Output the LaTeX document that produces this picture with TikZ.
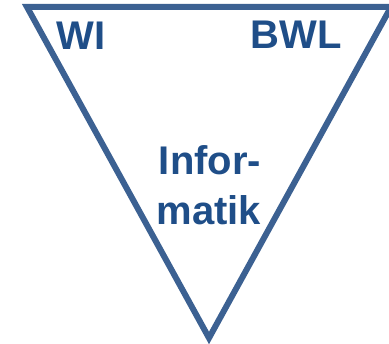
\documentclass[tikz,border=0pt]{standalone}
\usepackage{fontspec}
\setmainfont{Liberation Sans}
\definecolor{randblau}{RGB}{60,97,146}
\definecolor{textblau}{RGB}{31,78,136}
\tikzset{fach/.style={text=textblau,font=\fontsize{40}{50}\selectfont\bfseries,inner sep=0pt}}
\begin{document}
\begin{tikzpicture}[x=1pt,y=-1pt]
\useasboundingbox (0,0) rectangle (389,344);
\coordinate (ol) at (27,7);
\coordinate (or) at (391,7);
\coordinate (u) at (209,338);
\draw[randblau,line width=6pt,line join=miter] (ol) -- (or) -- (u) -- cycle;
\node[fach,anchor=base] (wi) at (81,50) {WI};
\node[fach,anchor=base] (bwl) at (296,49) {BWL};
\node[fach,anchor=base] (infor) at (210,175) {Infor-};
\node[fach,anchor=base] (matik) at (209,225) {matik};
\end{tikzpicture}
\end{document}
